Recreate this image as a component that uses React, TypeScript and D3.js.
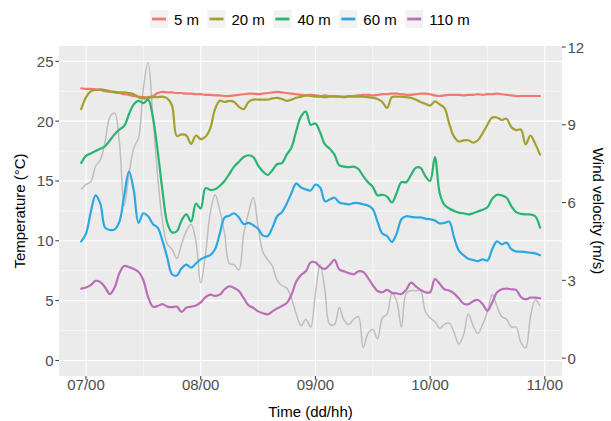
import React from 'react';
import * as d3 from 'd3';

// hourly samples, 06/23 .. 10/23 (hours counted from 07/00)
const hours = d3.range(-1, 96);

const xTickHours = [0, 24, 48, 72, 96];
const xTickLabels = ['07/00', '08/00', '09/00', '10/00', '11/00'];
const xMinorHours = [12, 36, 60, 84];
const tempTicks = [0, 5, 10, 15, 20, 25];
const tempMinor = [2.5, 7.5, 12.5, 17.5, 22.5];
const windTicks = [0, 3, 6, 9, 12];

const seriesNames = ['5 m', '20 m', '40 m', '60 m', '110 m'];
const seriesColors = ['#F1786D', '#A3A12C', '#28B570', '#2CA8E0', '#BC6DB8'];

const temp5 = [
  22.75, 22.7, 22.7, 22.65, 22.6, 22.5, 22.45, 22.4, 22.35, 22.25, 22.2,
  22.1, 22.05, 22.0, 22.0, 22.1, 22.35, 22.45, 22.4, 22.4, 22.35,
  22.35, 22.3, 22.3, 22.25, 22.25, 22.2, 22.2, 22.15, 22.15, 22.1,
  22.1, 22.15, 22.2, 22.25, 22.3, 22.3, 22.25, 22.3, 22.35, 22.4,
  22.45, 22.4, 22.35, 22.3, 22.25, 22.2, 22.15, 22.2, 22.15, 22.1,
  22.15, 22.1, 22.1, 22.05, 22.05, 22.1, 22.1, 22.15, 22.2, 22.2,
  22.15, 22.2, 22.25, 22.25, 22.3, 22.3, 22.25, 22.2, 22.2, 22.25,
  22.3, 22.3, 22.25, 22.15, 22.1, 22.15, 22.2, 22.2, 22.2, 22.15,
  22.2, 22.2, 22.25, 22.2, 22.25, 22.25, 22.3, 22.25, 22.2, 22.15,
  22.1, 22.1, 22.1, 22.1, 22.1, 22.1,
];

const temp20 = [
  21.0, 22.0, 22.5, 22.6, 22.65, 22.6, 22.5, 22.45, 22.4, 22.4, 22.35,
  22.25, 22.0, 21.9, 21.95, 22.0, 22.0, 22.05, 21.9, 21.3, 18.75,
  18.9, 18.8, 18.1, 18.8, 18.5, 18.7, 19.4, 21.0, 21.7, 21.6,
  21.7, 21.6, 21.2, 21.0, 21.6, 21.8, 21.8, 21.8, 21.8, 21.9,
  21.95, 21.85, 21.7, 21.8, 21.95, 22.05, 22.15, 22.1, 22.05, 22.05,
  22.0, 22.05, 22.05, 22.05, 22.0, 22.05, 22.05, 22.05, 22.05, 22.0,
  21.95, 21.85, 21.6, 21.1, 22.0, 22.05, 22.05, 22.0, 21.95, 21.8,
  21.6, 21.45, 21.3, 21.65, 21.4, 21.1, 19.8, 18.7, 18.3, 18.4,
  18.4, 18.2, 18.4, 19.0, 19.7, 20.3, 20.3, 20.1, 20.2, 19.5,
  19.25, 19.3, 18.05, 18.8, 18.1, 17.2,
];

const temp40 = [
  16.5, 17.1, 17.3, 17.5, 17.7, 17.9, 18.4, 18.9, 19.3, 19.6, 20.6,
  21.4, 21.7, 21.5, 21.8, 20.3, 17.5, 14.2, 11.5, 10.7, 10.8,
  11.7, 12.2, 11.6, 13.1, 12.7, 14.4, 14.25, 14.3, 14.6, 15.0,
  15.6, 16.2, 16.6, 17.0, 17.15, 17.0, 16.3, 15.8, 15.5, 15.9,
  16.4, 16.5, 17.2, 17.8, 19.2, 20.4, 20.8, 19.7, 19.8, 19.05,
  18.05, 17.7, 17.2, 16.3, 16.2, 16.15, 16.2, 16.0, 15.4, 14.9,
  14.5, 13.8, 13.85, 13.7, 13.2, 14.0, 14.9, 14.9, 15.5, 16.1,
  16.1, 15.4, 15.0, 17.0, 14.0, 13.0, 12.7, 12.5, 12.35, 12.3,
  12.2, 12.3, 12.45, 12.6, 12.8, 13.5, 13.85, 13.8, 13.6, 12.9,
  12.4, 12.25, 12.2, 12.2, 12.05, 11.1,
];

const temp60 = [
  9.95, 10.6, 12.4, 13.8, 13.1, 11.1, 10.9, 10.95, 11.6, 13.8, 15.8,
  14.2, 11.5, 12.3, 12.05, 11.4, 11.1, 10.0, 8.6, 7.2, 7.1,
  7.7, 8.0, 7.75, 8.1, 8.45, 8.65, 8.8, 9.3, 10.6, 11.95,
  12.1, 12.3, 11.95, 11.4, 11.5, 11.3, 11.0, 10.45, 10.4, 11.1,
  12.05, 12.4, 13.1, 14.0, 14.8, 14.45, 14.3, 14.2, 14.7, 14.45,
  13.3, 13.45, 13.6, 13.2, 13.1, 13.05, 13.15, 13.15, 13.05, 12.95,
  12.65, 11.6, 10.6, 10.4, 9.9, 10.6, 11.8, 12.05, 12.0, 11.95,
  11.95, 11.85, 11.8, 11.7, 11.45, 11.5, 11.6, 10.3, 9.2, 8.8,
  8.5, 8.4, 8.3, 8.45, 8.35, 9.3, 9.95, 9.7, 9.85, 9.3,
  9.1, 9.1, 9.05, 9.0, 8.95, 8.8,
];

const temp110 = [
  6.0, 6.1, 6.3, 6.65, 6.55, 6.1, 5.55, 6.1, 7.3, 7.9, 7.8,
  7.65, 7.4, 6.7, 5.3, 4.5, 4.55, 4.7, 4.5, 4.45, 4.5,
  4.05, 4.4, 4.5, 4.6, 4.85, 5.3, 5.5, 5.4, 5.5, 5.95,
  6.2, 6.05, 5.8, 5.2, 4.6, 4.4, 4.1, 3.95, 3.85, 4.1,
  4.35, 4.55, 4.8, 5.5, 6.6, 7.15, 7.45, 8.2, 8.2, 7.8,
  7.65, 8.0, 8.4, 7.6, 7.45, 7.3, 7.2, 7.45, 7.4, 6.9,
  6.3, 5.8, 5.7, 5.9, 5.65, 5.6, 5.55, 5.9, 6.5, 6.2,
  5.9, 5.7, 5.7, 6.8, 6.4, 5.95, 5.85, 5.6, 5.2, 4.75,
  4.7, 4.95, 5.05, 4.7, 4.15, 4.85, 5.7, 5.95, 6.0, 5.95,
  5.9, 5.3, 5.1, 5.25, 5.25, 5.2,
];

// wind velocity (m/s), right axis
const wind = [
  6.5, 6.7, 6.8, 7.4, 7.65, 8.35, 9.3, 9.45, 8.3, 5.9, 7.1,
  8.1, 8.5, 10.4, 11.4, 9.3, 7.0, 5.3, 4.4, 4.2, 3.85,
  4.4, 4.9, 5.15, 4.5, 2.9, 4.0, 5.6, 6.3, 5.7, 4.8,
  3.65, 3.6, 3.4, 4.8, 5.6, 6.2, 5.1, 4.1, 3.8, 3.55,
  3.0, 2.8, 2.7, 2.3, 1.7, 1.25, 1.5, 1.2, 2.5, 3.6,
  2.6, 1.3, 1.3, 1.95, 1.45, 1.3, 1.5, 1.6, 0.4, 0.95,
  1.1, 0.75, 1.55, 1.7, 2.5, 2.2, 1.2, 2.5, 2.6, 2.6,
  2.6, 1.8, 1.55, 1.4, 1.15, 1.3, 1.35, 1.0, 0.55, 0.9,
  1.7, 1.25, 0.95, 1.3, 1.8, 2.45, 2.0, 1.6, 1.5, 1.2,
  1.2, 0.6, 0.4, 1.6, 2.25, 2.0,
];

const tempSeries = [temp5, temp20, temp40, temp60, temp110];

const W = 611;
const H = 421;
const panel = { left: 59, right: 562, top: 46, bottom: 376 };
const font = "'Liberation Sans', Arial, sans-serif";

export default function App() {
  const x = d3.scaleLinear().domain([-5.65, 99.6]).range([panel.left, panel.right]);
  const yT = d3.scaleLinear().domain([-1.3, 26.28]).range([panel.bottom, panel.top]);
  const yW = d3.scaleLinear().domain([-0.69, 12.04]).range([panel.bottom, panel.top]);

  const tempLine = d3
    .line<number>()
    .x((_, i) => x(hours[i]))
    .y(d => yT(d))
    .curve(d3.curveCatmullRom.alpha(0.5));
  const windLine = d3
    .line<number>()
    .x((_, i) => x(hours[i]))
    .y(d => yW(d))
    .curve(d3.curveCatmullRom.alpha(0.5));

  // legend layout (approx text widths at 15px)
  const labelWidths = [25, 33.4, 33.4, 33.4, 41.7];
  let cursor = 150;
  const legendItems = seriesNames.map((name, i) => {
    const item = { name, color: seriesColors[i], x: cursor };
    cursor += 18 + 6 + labelWidths[i] + 8.5;
    return item;
  });

  const midY = (panel.top + panel.bottom) / 2;

  return (
    <svg
      width={W}
      height={H}
      style={{ position: 'absolute', left: 0, top: 0, background: '#fff' }}
      fontFamily={font}
    >
      <rect x={0} y={0} width={W} height={H} fill="#fff" />
      {/* panel */}
      <rect
        x={panel.left}
        y={panel.top}
        width={panel.right - panel.left}
        height={panel.bottom - panel.top}
        fill="#EBEBEB"
      />
      <g stroke="#fff" fill="none">
        {tempMinor.map(t => (
          <line key={'hm' + t} x1={panel.left} x2={panel.right} y1={yT(t)} y2={yT(t)} strokeWidth={0.55} />
        ))}
        {xMinorHours.map(h => (
          <line key={'vm' + h} x1={x(h)} x2={x(h)} y1={panel.top} y2={panel.bottom} strokeWidth={0.55} />
        ))}
        {tempTicks.map(t => (
          <line key={'h' + t} x1={panel.left} x2={panel.right} y1={yT(t)} y2={yT(t)} strokeWidth={1.1} />
        ))}
        {xTickHours.map(h => (
          <line key={'v' + h} x1={x(h)} x2={x(h)} y1={panel.top} y2={panel.bottom} strokeWidth={1.1} />
        ))}
      </g>

      {/* wind */}
      <path d={windLine(wind) || ''} fill="none" stroke="#BEBEBE" strokeWidth={1.5} strokeLinejoin="round" />

      {/* temperature series */}
      {tempSeries.map((s, i) => (
        <path
          key={seriesNames[i]}
          d={tempLine(s) || ''}
          fill="none"
          stroke={seriesColors[i]}
          strokeWidth={2.2}
          strokeLinejoin="round"
          strokeLinecap="round"
        />
      ))}

      {/* left axis */}
      <g fontSize={15} fill="#4D4D4D">
        {tempTicks.map(t => (
          <g key={'lt' + t}>
            <line x1={panel.left - 3.7} x2={panel.left} y1={yT(t)} y2={yT(t)} stroke="#333" strokeWidth={1} />
            <text x={panel.left - 5.5} y={yT(t)} textAnchor="end" dominantBaseline="central">
              {t}
            </text>
          </g>
        ))}
      </g>

      {/* right axis */}
      <g fontSize={15} fill="#4D4D4D">
        {windTicks.map(w => (
          <g key={'rt' + w}>
            <line x1={panel.right} x2={panel.right + 3.7} y1={yW(w)} y2={yW(w)} stroke="#333" strokeWidth={1} />
            <text x={panel.right + 5.5} y={yW(w)} textAnchor="start" dominantBaseline="central">
              {w}
            </text>
          </g>
        ))}
      </g>

      {/* bottom axis */}
      <g fontSize={15} fill="#4D4D4D">
        {xTickHours.map((h, i) => (
          <g key={'bt' + h}>
            <line x1={x(h)} x2={x(h)} y1={panel.bottom} y2={panel.bottom + 3.7} stroke="#333" strokeWidth={1} />
            <text x={x(h)} y={panel.bottom + 14} textAnchor="middle">
              {xTickLabels[i]}
            </text>
          </g>
        ))}
      </g>

      {/* axis titles */}
      <text x={(panel.left + panel.right) / 2} y={417} textAnchor="middle" fontSize={15} fill="#000">
        Time (dd/hh)
      </text>
      <text
        transform={`translate(25,${midY}) rotate(-90)`}
        textAnchor="middle"
        fontSize={15}
        fill="#000"
      >
        Temperature (°C)
      </text>
      <text
        transform={`translate(593,${midY}) rotate(90)`}
        textAnchor="middle"
        fontSize={15}
        fill="#000"
      >
        Wind velocity (m/s)
      </text>

      {/* legend */}
      <g fontSize={15} fill="#000">
        {legendItems.map(it => (
          <g key={it.name}>
            <rect x={it.x} y={10} width={18} height={18} fill="#F2F2F2" />
            <line x1={it.x + 2} x2={it.x + 16} y1={19} y2={19} stroke={it.color} strokeWidth={2.8} />
            <text x={it.x + 24} y={19} dominantBaseline="central">
              {it.name}
            </text>
          </g>
        ))}
      </g>
    </svg>
  );
}
